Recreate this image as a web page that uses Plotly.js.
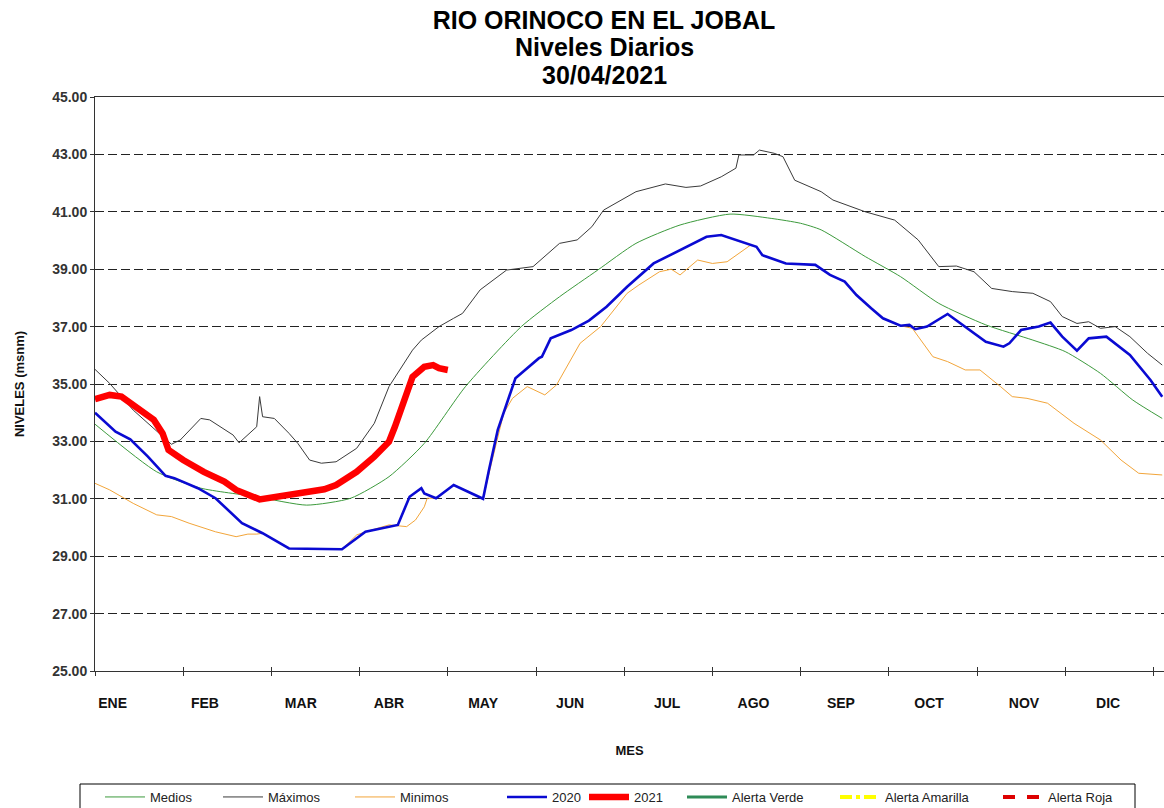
<!DOCTYPE html>
<html><head><meta charset="utf-8">
<script src="https://cdn.plot.ly/plotly-3.0.1.min.js"></script>
<style>html,body{margin:0;padding:0;background:#fff;overflow:hidden}#chart{width:1164px;height:808px}</style>
</head><body><div id="chart"></div>
<script>
// ---- tick labels / positions (day of year) ----
const monthLabels = ['ENE','FEB','MAR','ABR','MAY','JUN','JUL','AGO','SEP','OCT','NOV','DIC'];
const monthLabelDays = [6,37.4,70,100,132,161.6,194.6,224,253.7,283.7,316,344.6];
const monthTickDays = [0,30,60,90,120,150,180,210,240,270,300,330,360];
const levelTicks = [25,27,29,31,33,35,37,39,41,43,45];
const titleLines = ['RIO ORINOCO EN EL JOBAL','Niveles Diarios','30/04/2021'];

// ---- Medios ----
const mediosDays   = [0,21,36,55,72,87,100,112,126,145,158,171,184,199,216,230,240,247,262,274,287,303,319,330,342,353,363];
const mediosLevels = [33.6,31.94,31.37,31.07,30.78,31.02,31.77,32.93,34.91,37.0,38.04,38.97,39.9,40.54,40.92,40.77,40.6,40.37,39.44,38.74,37.81,37.06,36.53,36.13,35.37,34.44,33.8];

// ---- Máximos ----
const maximosDays   = [0,5,13,26,29,36,39,47,49,55,56,57,61,66,69,73,77,82,89,95,100,108,111,117,122,125,131,140,149,158,164,169,173,184,194,201,206,213,218,219,224,226,231,234,238,247,251,262,272,280,287,293,299,305,312,319,325,329,334,338,342,347,352,358,363];
const maximosLevels = [35.51,35.02,34.09,32.9,33.05,33.8,33.75,33.22,32.95,33.51,34.56,33.86,33.8,33.28,32.93,32.35,32.24,32.29,32.76,33.63,34.91,36.18,36.53,37.0,37.29,37.46,38.28,38.97,39.09,39.9,40.02,40.48,41.06,41.7,41.97,41.85,41.9,42.22,42.52,42.98,42.98,43.15,43.04,42.92,42.1,41.7,41.41,41.0,40.71,40.02,39.09,39.11,38.91,38.33,38.22,38.16,37.87,37.35,37.11,37.17,36.94,37.0,36.65,36.07,35.66];

// ---- Minimos ----
const minimosDays   = [0,5,13,21,26,32,41,48,52,55,57,66,84,89,92,100,106,109,112,113,116,122,128,132,135,139,142,147,153,157,165,172,181,185,192,196,199,205,210,215,223,225,227,235,245,250,255,259,264,268,274,278,285,290,296,301,308,312,317,324,333,342,349,355,363];
const minimosLevels = [31.54,31.31,30.84,30.44,30.38,30.15,29.85,29.68,29.77,29.77,29.8,29.27,29.24,29.74,29.85,30.09,30.03,30.26,30.72,31.02,31.02,31.48,31.19,31.0,32.3,33.98,34.5,34.91,34.62,34.97,36.42,37.0,38.16,38.45,38.91,39.0,38.8,39.32,39.2,39.26,39.84,39.78,39.49,39.2,39.15,38.8,38.57,38.1,37.64,37.29,37.03,36.94,35.95,35.78,35.49,35.49,34.91,34.56,34.5,34.33,33.63,33.05,32.35,31.89,31.83];

// ---- 2020 ----
const y2020Days   = [0,7,12,18,24,27,35,41,50,57,66,84,92,100,103,107,111,112,116,122,128,132,134,137,143,151,152,155,162,168,174,181,190,199,208,213,218,224,225,227,235,245,250,255,259,264,268,274,277,279,283,290,296,303,309,311,315,321,325,329,334,338,344,352,359,363];
const y2020Levels = [34.0,33.34,33.07,32.47,31.8,31.72,31.37,31.02,30.15,29.8,29.27,29.24,29.85,30.03,30.09,31.07,31.37,31.19,31.02,31.48,31.19,31.0,32.0,33.4,35.2,35.9,35.95,36.59,36.88,37.21,37.69,38.39,39.2,39.67,40.13,40.19,40.02,39.84,39.78,39.49,39.2,39.15,38.8,38.57,38.1,37.64,37.29,37.03,37.06,36.91,37.0,37.44,37.0,36.47,36.3,36.42,36.88,37.0,37.14,36.65,36.16,36.59,36.65,36.01,35.14,34.56];

// ---- 2021 ----
const y2021Days   = [0,5,9,12,16,20,23,25,30,37,44,48,56,66,78,82,89,95,100,102,105,108,112,115,117,120];
const y2021Levels = [34.47,34.62,34.56,34.33,34.09,33.75,33.28,32.7,32.35,31.94,31.6,31.31,30.98,31.13,31.33,31.48,31.94,32.47,32.99,33.51,34.44,35.25,35.6,35.66,35.55,35.49];

// Alert series: no values inside the chart (legend only)
const alertaDays = [null];
const alertaLevels = [null];

const narrow = 'Liberation Sans Narrow, Arial Narrow, Liberation Sans, Arial, sans-serif';
const sans = 'Liberation Sans, Arial, sans-serif';

const traces = [
  {name:'Medios', x:mediosDays, y:mediosLevels, mode:'lines', legend:'legend', line:{color:'#3c9a3c', width:1, shape:'spline', smoothing:0.6}},
  {name:'Máximos', x:maximosDays, y:maximosLevels, mode:'lines', legend:'legend2', line:{color:'#3a3a3a', width:1}},
  {name:'Minimos', x:minimosDays, y:minimosLevels, mode:'lines', legend:'legend3', line:{color:'#f2a53a', width:1}},
  {name:'2020', x:y2020Days, y:y2020Levels, mode:'lines', legend:'legend4', line:{color:'#0a0ad2', width:2.6}},
  {name:'2021', x:y2021Days, y:y2021Levels, mode:'lines', legend:'legend5', line:{color:'#ff0000', width:6.5}},
  {name:'Alerta Verde', x:alertaDays, y:alertaLevels, xaxis:'x2', mode:'lines', legend:'legend6', line:{color:'#2e8b57', width:3}},
  {name:'Alerta Amarilla', x:alertaDays, y:alertaLevels, xaxis:'x3', mode:'lines', legend:'legend7', line:{color:'#ffff00', width:4, dash:'dashdot'}},
  {name:'Alerta Roja', x:alertaDays, y:alertaLevels, mode:'lines', legend:'legend8', line:{color:'#dd0000', width:4, dash:'dash'}}
];

const W = 1164, H = 808, ml = 95, mr = 0, mt = 97, mb = 137;
const pw = W - ml - mr, ph = H - mt - mb;
const xr = [0, pw / 2.94];
const py = (pix) => 1 + (mt - pix) / ph;   // container pixel row -> paper y
const px = (pix) => (pix - ml) / pw;       // container pixel col -> paper x

const layout = {
  width: W, height: H,
  margin: {l: ml, r: mr, t: mt, b: mb, autoexpand: false},
  paper_bgcolor: '#fff', plot_bgcolor: '#fff',
  title: {text: titleLines[0],
          font: {family: sans, size: 25, color: '#000', weight: 'bold'},
          xref: 'container', x: 604 / W, xanchor: 'center',
          yref: 'container', y: 1 - 20 / H, yanchor: 'middle'},
  annotations: [
    {text: titleLines[1], xref: 'paper', yref: 'paper', x: px(604), y: py(47), xanchor: 'center', yanchor: 'middle',
     showarrow: false, font: {family: sans, size: 25, color: '#000', weight: 'bold'}},
    {text: titleLines[2], xref: 'paper', yref: 'paper', x: px(604), y: py(75), xanchor: 'center', yanchor: 'middle',
     showarrow: false, font: {family: sans, size: 25, color: '#000', weight: 'bold'}}
  ],
  shapes: [
    {type: 'rect', xref: 'paper', yref: 'paper', x0: px(80), x1: px(1135), y0: py(784), y1: py(815),
     line: {color: '#000', width: 1}, fillcolor: 'rgba(0,0,0,0)', layer: 'above'}
  ],
  xaxis: {range: xr, tickmode: 'array', tickvals: monthTickDays, ticks: 'outside', ticklen: 4,
          tickcolor: '#333', showticklabels: false, showgrid: false, zeroline: false,
          showline: true, linecolor: '#333', linewidth: 1, mirror: true,
          title: {text: 'MES', font: {family: narrow, size: 13, color: '#111', weight: 'bold'}, standoff: 70}},
  xaxis2: {overlaying: 'x', anchor: 'y', side: 'bottom', range: xr, tickmode: 'array',
           tickvals: monthLabelDays, ticktext: monthLabels, ticks: '', showgrid: false, zeroline: false,
           showline: false, ticklabelstandoff: 22,
           tickfont: {family: narrow, size: 14, color: '#111', weight: 'bold'}},
  xaxis3: {overlaying: 'x', anchor: 'y', side: 'bottom', range: xr, tickmode: 'array',
           tickvals: monthTickDays, ticks: 'inside', ticklen: 4, tickcolor: '#333',
           showticklabels: false, showgrid: false, zeroline: false, showline: false},
  yaxis: {range: [25, 45], tickmode: 'array', tickvals: levelTicks, tickformat: '.2f',
          ticks: 'outside', ticklen: 4, tickcolor: '#333',
          showgrid: true, gridcolor: '#222', gridwidth: 1, griddash: '9px,4px',
          zeroline: false, showline: true, linecolor: '#333', linewidth: 1,
          tickfont: {family: narrow, size: 14, color: '#333', weight: 'bold'},
          title: {text: 'NIVELES (msnm)', font: {family: sans, size: 13, color: '#111', weight: 'bold'}, standoff: 24}},
  showlegend: true
};

// one legend per entry so each sits where the reference puts it
const legendTextStarts = [150, 268, 400, 552, 634, 732, 885, 1048];
legendTextStarts.forEach((t, i) => {
  const key = i === 0 ? 'legend' : 'legend' + (i + 1);
  layout[key] = {orientation: 'h', xref: 'paper', yref: 'paper', x: px(t - 50), xanchor: 'left',
                 y: py(782), yanchor: 'top', borderwidth: 0, bgcolor: 'rgba(0,0,0,0)',
                 itemwidth: 40, font: {family: narrow, size: 13, color: '#222'}};
});

Plotly.newPlot('chart', traces, layout, {displayModeBar: false, staticPlot: true});
</script></body></html>
